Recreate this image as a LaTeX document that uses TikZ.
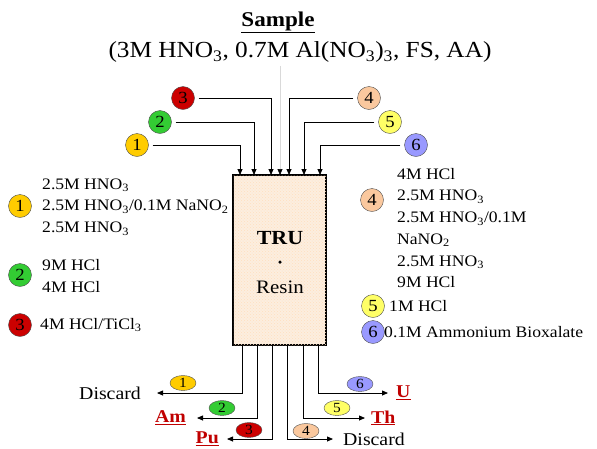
\documentclass[tikz,border=0pt]{standalone}
\usepackage{fontspec}
\setmainfont[FakeStretch=1.1]{Liberation Serif}
\usetikzlibrary{arrows.meta,shapes.geometric,patterns,positioning}

\definecolor{feedone}{HTML}{FFCC00}
\definecolor{feedtwo}{HTML}{33CC33}
\definecolor{feedthree}{HTML}{CC0000}
\definecolor{feedfour}{HTML}{FAC89E}
\definecolor{feedfive}{HTML}{FFFF66}
\definecolor{feedsix}{HTML}{9999FF}
\definecolor{resinfill}{HTML}{FCEEDF}
\definecolor{elemred}{HTML}{C00000}

\tikzset{
  numcirc/.style={draw=black!70, circle, minimum size=23pt, inner sep=0pt, font=\fontsize{17}{17}\selectfont},
  numoval/.style={draw=black!70, ellipse, minimum width=26pt, minimum height=15pt, inner sep=0pt, font=\fontsize{14}{14}\selectfont},
  feed/.style={-{Triangle[width=5pt,length=6pt]}, line width=0.8pt},
  elute/.style={-{Triangle[width=5pt,length=6pt]}, line width=0.8pt},
  legend/.style={anchor=west, align=left, inner sep=0pt, font=\fontsize{16}{21.7}\selectfont},
  outlabel/.style={inner sep=0pt, font=\fontsize{18}{18}\selectfont},
  elem/.style={inner sep=0pt, text=elemred, font=\fontsize{18}{18}\selectfont\bfseries},
}

\begin{document}
\begin{tikzpicture}[x=1pt, y=-1pt]
\useasboundingbox (0,0) rectangle (597,448);
% sample
\node[font=\fontsize{21}{21}\selectfont\bfseries] (sample1) at (278,22) {\underline{Sample}};
\node[font=\fontsize{23}{23}\selectfont] (sample2) at (300,52) {(3M HNO\textsubscript{3}, 0.7M Al(NO\textsubscript{3})\textsubscript{3}, FS, AA)};

% column
\node[draw, line width=1.2pt, fill=resinfill, postaction={pattern=crosshatch dots, pattern color=orange!25},
      minimum width=93pt, minimum height=170pt, inner sep=0pt] (box) at (279.5,260) {};
\node[font=\fontsize{20}{20}\selectfont\bfseries] (tru) at (280,238) {TRU};
\node[circle, fill=black, inner sep=0pt, minimum size=3.5pt] (dot) at (280,262) {};
\node[font=\fontsize{19}{19}\selectfont] (resin) at (280,287) {Resin};

% feeds in
\node[numcirc, fill=feedone] (c1) at (137,145) {1};
\node[numcirc, fill=feedtwo] (c2) at (160,122) {2};
\node[numcirc, fill=feedthree] (c3) at (183,98) {3};
\node[numcirc, fill=feedfour] (c4) at (369,98) {4};
\node[numcirc, fill=feedfive] (c5) at (390,122) {5};
\node[numcirc, fill=feedsix] (c6) at (416,145) {6};
\coordinate (in1) at (240,175);
\coordinate (in2) at (254,175);
\coordinate (in3) at (271,175);
\coordinate (in0) at (280,175);
\coordinate (in4) at (289,175);
\coordinate (in5) at (304,175);
\coordinate (in6) at (320,175);
\draw[feed, shorten <=4pt] (c1.east) -| (in1);
\draw[feed, shorten <=4pt] (c2.east) -| (in2);
\draw[feed, shorten <=4pt] (c3.east) -| (in3);
\draw[feed, shorten <=4pt] (c4.west) -| (in4);
\draw[feed, shorten <=4pt] (c5.west) -| (in5);
\draw[feed, shorten <=4pt] (c6.west) -| (in6);
\draw[-{Triangle[width=5pt,length=6pt,color=black]}, line width=0.6pt, black!15] (sample2.south -| in0) -- (in0);

% legend left
\node[numcirc, fill=feedone] (l1) at (20,206) {1};
\node[legend] (t1) at (42,207) {2.5M HNO\textsubscript{3}\\2.5M HNO\textsubscript{3}/0.1M NaNO\textsubscript{2}\\2.5M HNO\textsubscript{3}};
\node[numcirc, fill=feedtwo] (l2) at (20,275) {2};
\node[legend] (t2) at (42,276) {9M HCl\\4M HCl};
\node[numcirc, fill=feedthree] (l3) at (20,325) {3};
\node[legend] (t3) at (40,325) {4M HCl/TiCl\textsubscript{3}};

% legend right
\node[numcirc, fill=feedfour] (l4) at (372,200) {4};
\node[legend] (t4) at (397,228) {4M HCl\\2.5M HNO\textsubscript{3}\\2.5M HNO\textsubscript{3}/0.1M\\NaNO\textsubscript{2}\\2.5M HNO\textsubscript{3}\\9M HCl};
\node[numcirc, fill=feedfive] (l5) at (373,306) {5};
\node[legend] (t5) at (389,306) {1M HCl};
\node[numcirc, fill=feedsix] (l6) at (373,332) {6};
\node[legend] (t6) at (384,332) {0.1M Ammonium Bioxalate};

% eluates out
\coordinate (out1) at (242,345);
\coordinate (out2) at (257,345);
\coordinate (out3) at (272,345);
\coordinate (out4) at (287,345);
\coordinate (out5) at (303,345);
\coordinate (out6) at (318,345);
\node[outlabel, anchor=east] (dis1) at (141,393) {Discard};
\node[elem, anchor=east] (am) at (186,418) {\underline{Am}};
\node[elem, anchor=east] (pu) at (219,439) {\underline{Pu}};
\node[outlabel, anchor=west] (dis4) at (343,439) {Discard};
\node[elem, anchor=west] (th) at (371,418) {\underline{Th}};
\node[elem, anchor=west] (u) at (396,393) {\underline{U}};
\draw[elute, shorten >=16pt] (out1) |- (dis1);
\draw[elute, shorten >=11pt] (out2) |- (am);
\draw[elute, shorten >=8pt] (out3) |- (pu);
\draw[elute, shorten >=10pt] (out4) |- (dis4);
\draw[elute, shorten >=6pt] (out5) |- (th);
\draw[elute, shorten >=8pt] (out6) |- (u);
\node[numoval, fill=feedone] (e1) at (183,383) {1};
\node[numoval, fill=feedtwo] (e2) at (222,408) {2};
\node[numoval, fill=feedthree] (e3) at (249,430) {3};
\node[numoval, fill=feedfour] (e4) at (306,431) {4};
\node[numoval, fill=feedfive] (e5) at (337,408) {5};
\node[numoval, fill=feedsix] (e6) at (360,384) {6};
\end{tikzpicture}
\end{document}
